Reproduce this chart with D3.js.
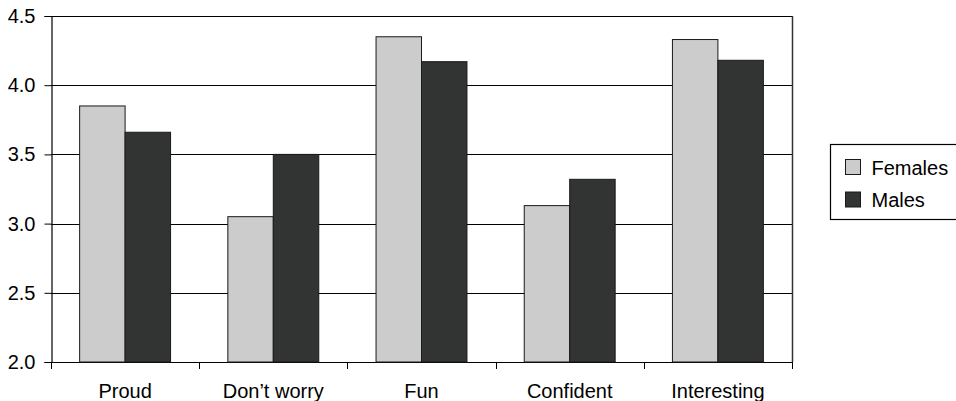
<!DOCTYPE html>
<html lang="en">
<head>
<meta charset="utf-8">
<script src="https://cdn.jsdelivr.net/npm/d3@7"></script>
<style>
  body { margin: 0; background: #fff; }
  text { font-family: "Liberation Sans", Arial, sans-serif; font-size: 20px; fill: #000; }
</style>
</head>
<body>
<script>
// data
var categories = ["Proud", "Don\u2019t worry", "Fun", "Confident", "Interesting"];
var seriesNames = ["Females", "Males"];
var females = [3.85, 3.05, 4.35, 3.13, 4.33];
var males = [3.66, 3.50, 4.17, 3.32, 4.18];
var yTicks = [2.0, 2.5, 3.0, 3.5, 4.0, 4.5];
var colors = ["#cccccc", "#323333"];

var w = 956, h = 401;
var plotLeft = 51, plotRight = 792, plotTop = 16, plotBottom = 362;

var svg = d3.select("body").append("svg")
  .attr("width", w).attr("height", h);

var x = d3.scaleBand().domain(categories).range([plotLeft, plotRight]);
var x1 = d3.scaleBand().domain(seriesNames).range([0, x.bandwidth()]).paddingOuter(0.63);
var y = d3.scaleLinear().domain([2, 4.5]).range([plotBottom, plotTop]);

// gridlines
svg.append("g").selectAll("line").data(yTicks).enter().append("line")
  .attr("x1", plotLeft).attr("x2", plotRight)
  .attr("y1", function(d) { return Math.round(y(d)) + 0.5; })
  .attr("y2", function(d) { return Math.round(y(d)) + 0.5; })
  .attr("stroke", "#000").attr("stroke-width", 1);

// right border
svg.append("line")
  .attr("x1", plotRight + 0.5).attr("x2", plotRight + 0.5)
  .attr("y1", plotTop).attr("y2", plotBottom)
  .attr("stroke", "#333").attr("stroke-width", 1.5);

// bars
var values = [females, males];
var groups = svg.append("g").selectAll("g").data(categories).enter().append("g")
  .attr("transform", function(d) { return "translate(" + x(d) + ",0)"; });
groups.selectAll("rect")
  .data(function(d, i) { return seriesNames.map(function(s, j) { return { s: s, v: values[j][i], j: j }; }); })
  .enter().append("rect")
  .attr("x", function(d) { return x1(d.s); })
  .attr("y", function(d) { return y(d.v); })
  .attr("width", x1.bandwidth())
  .attr("height", function(d) { return y(2) - y(d.v); })
  .attr("fill", function(d) { return colors[d.j]; })
  .attr("stroke", "#1a1a1a").attr("stroke-width", 1);

// y axis
var yAxis = d3.axisLeft(y).tickValues(yTicks).tickFormat(d3.format(".1f")).tickSize(7).tickPadding(9);
var gy = svg.append("g").attr("transform", "translate(" + (plotLeft + 0.5) + ",0)").call(yAxis);
gy.select(".domain").attr("stroke", "#000").attr("stroke-width", 1.2);
gy.selectAll("text").style("font-size", "20px").attr("fill", "#000");

// x axis
var xAxis = d3.axisBottom(x).tickSize(0).tickPadding(21);
var gx = svg.append("g").attr("transform", "translate(0," + (plotBottom + 0.5) + ")").call(xAxis);
gx.select(".domain").remove();
gx.selectAll("text").style("font-size", "20px").attr("fill", "#000");
// category separator ticks
var sepTicks = categories.map(function(d) { return x(d); }).concat([plotRight]);
svg.append("g").selectAll("line").data(sepTicks).enter().append("line")
  .attr("x1", function(d) { return Math.round(d) + 0.5; })
  .attr("x2", function(d) { return Math.round(d) + 0.5; })
  .attr("y1", plotBottom).attr("y2", plotBottom + 7)
  .attr("stroke", "#000");

// legend
var lg = svg.append("g").attr("transform", "translate(830,144)");
lg.append("rect").attr("x", 0.5).attr("y", 0.5).attr("width", 130).attr("height", 75)
  .attr("fill", "#fff").attr("stroke", "#000").attr("stroke-width", 1.2);
var items = lg.selectAll("g.item").data(seriesNames).enter().append("g")
  .attr("transform", function(d, i) { return "translate(15.5," + (15.5 + i * 32.5) + ")"; });
items.append("rect").attr("width", 15).attr("height", 15)
  .attr("fill", function(d, i) { return colors[i]; })
  .attr("stroke", "#1a1a1a");
items.append("text").attr("x", 26).attr("y", 15).text(function(d) { return d; });
</script>
</body>
</html>
